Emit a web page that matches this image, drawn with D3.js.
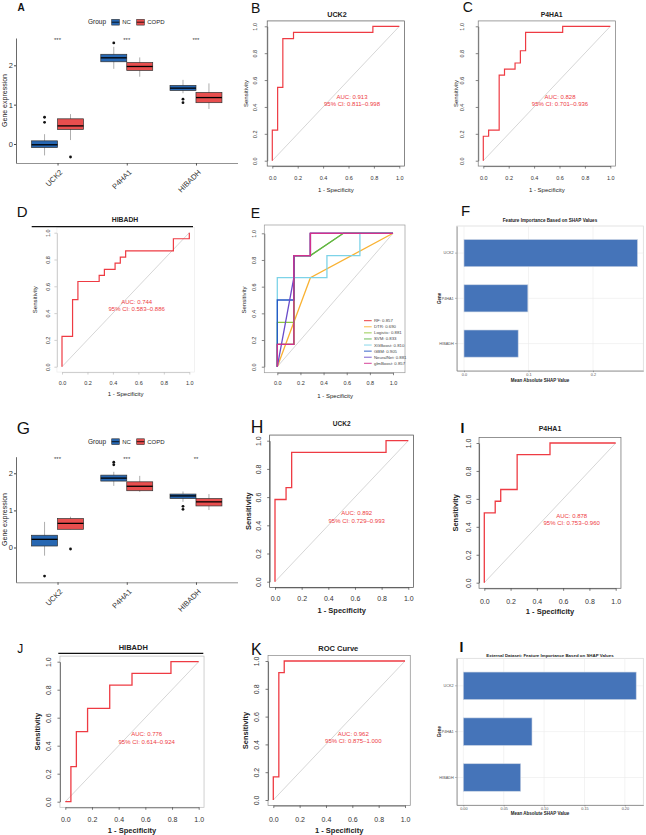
<html>
<head>
    <script src="https://d3js.org/d3.v7.min.js"></script>
    <style>
        body { margin: 0; background: #fff; }
        text { font-family: "Liberation Sans", Arial, Helvetica, sans-serif; }
    </style>
</head>
<body>
<div id="fig"></div>
<script>

    // ---------- data ----------
    var genes = ["UCK2", "P4HA1", "HIBADH"];
    var groups = ["NC", "COPD"];

    // box stats per gene: [lower whisker, Q1, median, Q3, upper whisker]
    var trainNC = [[-0.29, -0.09, -0.02, 0.08, 0.25], [1.91, 2.09, 2.19, 2.28, 2.47], [1.29, 1.36, 1.42, 1.49, 1.63]];
    var trainCOPD = [[0.10, 0.37, 0.46, 0.64, 0.76], [1.71, 1.87, 1.97, 2.07, 2.20], [0.89, 1.05, 1.18, 1.31, 1.54]];
    var trainNCOut = [[0.55, 0.68], [2.57], [1.05, 1.14]];
    var trainCOPDOut = [[-0.33], [], []];
    var trainSig = ["***", "***", "***"];

    var testNC = [[-0.22, 0.04, 0.22, 0.33, 0.69], [1.66, 1.79, 1.87, 1.95, 2.04], [1.23, 1.32, 1.39, 1.44, 1.51]];
    var testCOPD = [[0.49, 0.49, 0.65, 0.78, 0.83], [1.50, 1.53, 1.65, 1.77, 1.93], [1.01, 1.12, 1.23, 1.32, 1.44]];
    var testNCOut = [[-0.77], [2.23, 2.30], [1.03, 1.11]];
    var testCOPDOut = [[-0.04], [], []];
    var testSig = ["***", "***", "**"];

    // ROC curves: [1 - specificity, sensitivity]
    var rocTrainUCK2 = [[0, 0], [0, 0.227], [0.042, 0.227], [0.042, 0.545], [0.083, 0.545], [0.083, 0.909], [0.167, 0.909], [0.167, 0.955], [0.792, 0.955], [0.792, 1], [1, 1]];
    var rocTrainP4HA1 = [[0, 0], [0, 0.182], [0.042, 0.182], [0.042, 0.227], [0.125, 0.227], [0.125, 0.636], [0.167, 0.636], [0.167, 0.682], [0.25, 0.682], [0.25, 0.727], [0.292, 0.727], [0.292, 0.818], [0.333, 0.818], [0.333, 0.955], [0.625, 0.955], [0.625, 1], [1, 1]];
    var rocTrainHIBADH = [[0, 0], [0, 0.227], [0.083, 0.227], [0.083, 0.5], [0.125, 0.5], [0.125, 0.636], [0.292, 0.636], [0.292, 0.682], [0.333, 0.682], [0.333, 0.727], [0.417, 0.727], [0.417, 0.773], [0.458, 0.773], [0.458, 0.818], [0.5, 0.818], [0.5, 0.864], [0.875, 0.864], [0.875, 0.955], [1, 0.955], [1, 1]];
    var rocTestUCK2 = [[0, 0], [0, 0.583], [0.083, 0.583], [0.083, 0.667], [0.125, 0.667], [0.125, 0.917], [0.833, 0.917], [0.833, 1], [1, 1]];
    var rocTestP4HA1 = [[0, 0], [0, 0.5], [0.083, 0.5], [0.083, 0.583], [0.125, 0.583], [0.125, 0.667], [0.25, 0.667], [0.25, 0.917], [0.5, 0.917], [0.5, 1], [1, 1]];
    var rocTestHIBADH = [[0, 0], [0.042, 0], [0.042, 0.25], [0.083, 0.25], [0.083, 0.5], [0.167, 0.5], [0.167, 0.667], [0.333, 0.667], [0.333, 0.833], [0.5, 0.833], [0.5, 0.917], [0.792, 0.917], [0.792, 1], [1, 1]];
    var rocTestModel = [[0, 0], [0, 0.167], [0.042, 0.167], [0.042, 0.917], [0.083, 0.917], [0.083, 1], [1, 1]];

    var aucTrain = [["AUC: 0.913", "95% CI: 0.811\u20130.998"], ["AUC: 0.828", "95% CI: 0.701\u20130.936"], ["AUC: 0.744", "95% CI: 0.583\u20130.886"]];
    var aucTest = [["AUC: 0.892", "95% CI: 0.729\u20130.993"], ["AUC: 0.878", "95% CI: 0.753\u20130.960"], ["AUC: 0.776", "95% CI: 0.614\u20130.924"], ["AUC: 0.962", "95% CI: 0.875\u20131.000"]];

    // panel E: models
    var modelNames = ["RF", "DTR", "Logistic", "SVM", "XGBoost", "GBM", "NeuralNet", "glmBoost"];
    var modelAuc = ["0.857", "0.690", "0.881", "0.833", "0.810", "0.905", "0.881", "0.857"];
    var modelCurves = [
        [[0, 0], [0, 0.167], [0.143, 0.167], [0.143, 0.833], [0.286, 0.833], [0.286, 1], [1, 1]],
        [[0, 0], [0.286, 0.667], [1, 1]],
        [[0, 0], [0, 0.333], [0.143, 0.333], [0.143, 0.833], [0.286, 0.833], [0.571, 1], [1, 1]],
        [[0, 0], [0, 0.167], [0.143, 0.167], [0.143, 0.833], [0.286, 0.833], [0.571, 1], [1, 1]],
        [[0, 0], [0, 0.667], [0.429, 0.667], [0.429, 0.833], [0.714, 0.833], [0.714, 1], [1, 1]],
        [[0, 0], [0, 0.5], [0.143, 0.5], [0.143, 0.833], [0.286, 0.833], [0.286, 1], [1, 1]],
        [[0, 0], [0.143, 0.667], [0.143, 0.833], [0.286, 0.833], [0.286, 1], [1, 1]],
        [[0, 0], [0, 0.167], [0.143, 0.167], [0.143, 0.833], [0.286, 0.833], [0.286, 1], [1, 1]]
    ];

    // SHAP importance (UCK2, P4HA1, HIBADH)
    var shapTrain = [0.269, 0.099, 0.084];
    var shapTest = [0.214, 0.085, 0.071];

    // ---------- styles ----------
    var groupColor = d3.scaleOrdinal(groups, ["#2767B2", "#E84E4E"]);
    var modelColor = d3.scaleOrdinal(modelNames, ["#E8272B", "#F9B233", "#8DC63F", "#5DB547", "#7DD3E8", "#2255C4", "#6A4CC9", "#D2308E"]);
    var rocRed = "#EE3B43";

    var svg = d3.select("#fig")
        .append("svg")
        .attr("width", 646)
        .attr("height", 835);

    svg.append("rect").attr("width", 646).attr("height", 835).attr("fill", "#fff");

    // ---------- box plots (A, G) ----------
    function boxPanel(o) {
        var x = d3.scalePoint().domain(genes).range([o.left, o.right]).padding(0.6);
        var y = d3.scaleLinear().domain(o.yDomain).range([o.bottom, o.top]);
        var boxW = x.step() * 0.375;
        var g = svg.append("g");

        // y axis
        var ya = g.append("g")
            .attr("transform", "translate(" + o.left + ",0)")
            .call(d3.axisLeft(y).tickValues([0, 1, 2]).tickFormat(d3.format("d")).tickSize(2).tickSizeOuter(0));
        ya.select(".domain").attr("stroke", "#444").attr("stroke-width", 0.8);
        ya.selectAll(".tick line").attr("stroke", "#444");
        ya.selectAll("text").style("font-size", "7.5px").attr("fill", "#333").attr("x", -3);

        // x axis
        var xa = g.append("g")
            .attr("transform", "translate(0," + o.bottom + ")")
            .call(d3.axisBottom(x).tickSize(2.5).tickSizeOuter(0));
        xa.select(".domain").attr("stroke", "#777").attr("stroke-width", 0.8);
        xa.selectAll(".tick line").attr("stroke", "#555");
        xa.selectAll("text")
            .attr("x", 0).attr("y", 0).attr("dy", "0.35em")
            .attr("transform", "translate(3,8) rotate(-45)")
            .style("text-anchor", "end")
            .style("font-size", "7.5px")
            .attr("fill", "#333");

        // y label
        g.append("text")
            .attr("transform", "translate(4.3," + ((o.top + o.bottom) / 2) + ") rotate(-90)")
            .attr("dy", "0.35em")
            .style("text-anchor", "middle")
            .style("font-size", "7px")
            .attr("fill", "#222")
            .text("Gene expression");

        // boxes
        var series = [
            { group: "NC", stats: o.nc, out: o.ncOut, shift: -boxW / 2 },
            { group: "COPD", stats: o.copd, out: o.copdOut, shift: boxW / 2 }
        ];
        series.forEach(function (s) {
            s.stats.forEach(function (st, i) {
                var cx = x(genes[i]) + s.shift;
                g.append("line").attr("x1", cx).attr("x2", cx).attr("y1", y(st[0])).attr("y2", y(st[4]))
                    .attr("stroke", "#999").attr("stroke-width", 0.8);
                g.append("rect")
                    .attr("x", cx - boxW / 2).attr("width", boxW)
                    .attr("y", y(st[3])).attr("height", y(st[1]) - y(st[3]))
                    .attr("fill", groupColor(s.group))
                    .attr("stroke", "#333").attr("stroke-width", 0.7);
                g.append("line").attr("x1", cx - boxW / 2).attr("x2", cx + boxW / 2)
                    .attr("y1", y(st[2])).attr("y2", y(st[2]))
                    .attr("stroke", "#000").attr("stroke-width", 1.3);
                s.out[i].forEach(function (v) {
                    g.append("circle").attr("cx", cx).attr("cy", y(v)).attr("r", 1.4).attr("fill", "#111");
                });
            });
        });

        // significance marks
        g.selectAll(".sig").data(o.sig).enter().append("text")
            .attr("x", function (d, i) { return x(genes[i]); })
            .attr("y", o.sigY)
            .attr("dy", "0.35em")
            .style("text-anchor", "middle")
            .style("font-size", "6px")
            .attr("fill", "#444")
            .text(function (d) { return d; });

        // legend
        var ly = o.legendY;
        g.append("text").attr("x", 88).attr("y", ly).attr("dy", "0.35em")
            .style("font-size", "6.5px").attr("fill", "#222").text("Group");
        var keyX = [111.7, 136.7];
        groups.forEach(function (gr, k) {
            g.append("rect").attr("x", keyX[k]).attr("y", ly - 2.9).attr("width", 7.6).attr("height", 5.8)
                .attr("fill", groupColor(gr)).attr("stroke", "#333").attr("stroke-width", 0.6);
            g.append("line").attr("x1", keyX[k]).attr("x2", keyX[k] + 7.6).attr("y1", ly).attr("y2", ly)
                .attr("stroke", "#000").attr("stroke-width", 0.8);
            g.append("text").attr("x", keyX[k] + 10.5).attr("y", ly).attr("dy", "0.35em")
                .style("font-size", "6px").attr("fill", "#222").text(gr);
        });
    }

    // ---------- ROC panels ----------
    function rocPanel(o) {
        var x = d3.scaleLinear().domain([0, 1]).range([o.x0, o.x1]);
        var y = d3.scaleLinear().domain([0, 1]).range([o.y0, o.y1]);
        var fl = o.frame ? o.frame[0] : x(-0.04),
            fr = o.frame ? o.frame[1] : x(1.04),
            ft = o.frame ? o.frame[2] : y(1.04),
            fb = o.frame ? o.frame[3] : y(-0.04);
        var g = svg.append("g");

        g.append("rect").attr("x", fl).attr("y", ft).attr("width", fr - fl).attr("height", fb - ft)
            .attr("fill", "none").attr("stroke", o.frameColor).attr("stroke-width", 0.7);
        if (o.topLine) {
            g.append("line").attr("x1", o.topLine[0]).attr("x2", o.topLine[1]).attr("y1", o.topLine[2]).attr("y2", o.topLine[2])
                .attr("stroke", "#111").attr("stroke-width", 1.2);
        }

        var ticks = [0, 0.2, 0.4, 0.6, 0.8, 1];
        var xa = g.append("g")
            .attr("transform", "translate(0," + fb + ")")
            .call(d3.axisBottom(x).tickValues(ticks).tickFormat(d3.format(".1f")).tickSize(2.5).tickSizeOuter(0));
        xa.selectAll("text").attr("y", o.xTickOff).attr("dy", "0.35em")
            .style("font-size", o.tickSize + "px").attr("fill", "#333");
        var ya = g.append("g")
            .attr("transform", "translate(" + fl + ",0)")
            .call(d3.axisLeft(y).tickValues(ticks).tickFormat(d3.format(".1f")).tickSize(2.5).tickSizeOuter(0));
        ya.selectAll("text")
            .attr("transform", "rotate(-90)")
            .attr("x", 0).attr("y", -o.yTickOff).attr("dy", "0.35em")
            .style("text-anchor", "middle")
            .style("font-size", o.tickSize + "px").attr("fill", "#333");
        [xa, ya].forEach(function (a) {
            a.select(".domain").attr("stroke", o.axisColor).attr("stroke-width", 0.7);
            a.selectAll(".tick line").attr("stroke", o.axisColor).attr("stroke-width", 0.7);
        });

        // axis titles
        g.append("text")
            .attr("x", (o.x0 + o.x1) / 2).attr("y", fb + o.xLabOff).attr("dy", "0.35em")
            .style("text-anchor", "middle").style("font-size", o.labSize + "px")
            .style("font-weight", o.labWeight).attr("fill", "#222")
            .text("1 - Specificity");
        g.append("text")
            .attr("transform", "translate(" + (fl - o.yLabOff) + "," + ((o.y0 + o.y1) / 2) + ") rotate(-90)")
            .attr("dy", "0.35em")
            .style("text-anchor", "middle").style("font-size", o.labSize + "px")
            .style("font-weight", o.labWeight).attr("fill", "#222")
            .text("Sensitivity");

        if (o.title) {
            g.append("text").attr("x", o.titleX).attr("y", o.titleY).attr("dy", "0.35em")
                .style("text-anchor", "middle").style("font-size", o.titleSize + "px")
                .style("font-weight", "bold").attr("fill", "#222").text(o.title);
        }

        // chance line
        g.append("line").attr("x1", x(0)).attr("y1", y(0)).attr("x2", x(1)).attr("y2", y(1))
            .attr("stroke", "#bbb").attr("stroke-width", 0.6);

        var line = d3.line().x(function (d) { return x(d[0]); }).y(function (d) { return y(d[1]); });
        o.curves.forEach(function (c) {
            g.append("path").datum(c.points)
                .attr("d", line)
                .attr("fill", "none")
                .attr("stroke", c.color)
                .attr("stroke-width", o.lineWidth);
        });

        if (o.auc) {
            o.auc.forEach(function (t, k) {
                g.append("text").attr("x", o.aucX).attr("y", o.aucY[k]).attr("dy", "0.35em")
                    .style("text-anchor", "middle").style("font-size", "6px")
                    .attr("fill", rocRed).text(t);
            });
        }
        return { g: g, x: x, y: y };
    }

    // ---------- SHAP bar panels ----------
    function shapPanel(o) {
        var x = d3.scaleLinear().domain(o.xDomain).range([o.left, o.right]);
        var y = d3.scaleBand().domain(genes).range([o.top, o.bottom]).paddingInner(0.4).paddingOuter(0.3);
        var g = svg.append("g");

        g.append("rect").attr("x", o.left).attr("y", o.top).attr("width", o.right - o.left).attr("height", o.bottom - o.top)
            .attr("fill", "#fff").attr("stroke", "#d6d6d6").attr("stroke-width", 0.7);
        g.selectAll(".vg").data(o.ticks).enter().append("line")
            .attr("x1", function (d) { return x(d); }).attr("x2", function (d) { return x(d); })
            .attr("y1", o.top).attr("y2", o.bottom)
            .attr("stroke", "#ebebeb").attr("stroke-width", 0.6);
        g.selectAll(".hg").data(genes).enter().append("line")
            .attr("x1", o.left).attr("x2", o.right)
            .attr("y1", function (d) { return y(d) + y.bandwidth() / 2; })
            .attr("y2", function (d) { return y(d) + y.bandwidth() / 2; })
            .attr("stroke", "#ebebeb").attr("stroke-width", 0.6);

        g.selectAll(".bar").data(o.values).enter().append("rect")
            .attr("x", x(0))
            .attr("y", function (d, i) { return y(genes[i]); })
            .attr("width", function (d) { return x(d) - x(0); })
            .attr("height", y.bandwidth())
            .attr("fill", "#4574B9")
            .attr("stroke", "#c9d3e3").attr("stroke-width", 0.6);

        var xa = g.append("g").attr("transform", "translate(0," + o.bottom + ")")
            .call(d3.axisBottom(x).tickValues(o.ticks).tickFormat(d3.format(o.fmt)).tickSize(1.5).tickSizeOuter(0));
        xa.selectAll("text").attr("y", 2.5).style("font-size", "3.8px").attr("fill", "#555");
        var ya = g.append("g").attr("transform", "translate(" + o.left + ",0)")
            .call(d3.axisLeft(y).tickSize(1.5).tickSizeOuter(0));
        ya.selectAll("text").attr("x", -3).style("font-size", "3.8px").attr("fill", "#555");
        [xa, ya].forEach(function (a) {
            a.select(".domain").attr("stroke", "#777").attr("stroke-width", 0.7);
            a.selectAll(".tick line").attr("stroke", "#777").attr("stroke-width", 0.6);
        });

        g.append("text").attr("x", o.titleX).attr("y", o.titleY).attr("dy", "0.35em")
            .style("text-anchor", "middle").style("font-size", o.titleSize + "px").style("font-weight", "bold")
            .attr("fill", "#222").text(o.title);
        g.append("text").attr("x", (o.left + o.right) / 2 - 10).attr("y", o.xLabY).attr("dy", "0.35em")
            .style("text-anchor", "middle").style("font-size", "4.5px").style("font-weight", "bold")
            .attr("fill", "#222").text("Mean Absolute SHAP Value");
        g.append("text")
            .attr("transform", "translate(439.3," + ((o.top + o.bottom) / 2) + ") rotate(-90)")
            .attr("dy", "0.35em")
            .style("text-anchor", "middle").style("font-size", "4.5px").style("font-weight", "bold")
            .attr("fill", "#222").text("Gene");
    }

    // ---------- draw ----------
    boxPanel({
        left: 16, right: 237.5, top: 38, bottom: 163, yDomain: [-0.483, 2.694],
        nc: trainNC, copd: trainCOPD, ncOut: trainNCOut, copdOut: trainCOPDOut,
        sig: trainSig, sigY: 39.5, legendY: 22.2
    });
    boxPanel({
        left: 16, right: 237.5, top: 456.7, bottom: 582.3, yDomain: [-0.938, 2.447],
        nc: testNC, copd: testCOPD, ncOut: testNCOut, copdOut: testCOPDOut,
        sig: testSig, sigY: 459, legendY: 441.7
    });

    var smallRoc = { tickSize: 5.5, labSize: 6, labWeight: "normal", lineWidth: 1.2, titleSize: 6.8, axisColor: "#555" };
    var bigRoc = { tickSize: 7, labSize: 7.5, labWeight: "bold", lineWidth: 1.3, titleSize: 7, axisColor: "#444" };

    function merge(a, b) { return Object.assign({}, a, b); }

    rocPanel(merge(smallRoc, {
        x0: 272.3, x1: 399.3, y0: 160.7, y1: 26.3, frameColor: "#555",
        xTickOff: 12.2, yTickOff: 12.2, xLabOff: 24, yLabOff: 21.5,
        title: "UCK2", titleX: 337, titleY: 14.5, titleSize: 7.2,
        curves: [{ points: rocTrainUCK2, color: rocRed }],
        auc: aucTrain[0], aucX: 352, aucY: [96.7, 104]
    }));
    rocPanel(merge(smallRoc, {
        x0: 483.3, x1: 610.3, y0: 160.7, y1: 26.3, frameColor: "#777",
        xTickOff: 12.2, yTickOff: 16.5, xLabOff: 24, yLabOff: 22.5,
        title: "P4HA1", titleX: 551.7, titleY: 14.5,
        curves: [{ points: rocTrainP4HA1, color: rocRed }],
        auc: aucTrain[1], aucX: 560, aucY: [96.7, 104]
    }));
    rocPanel(merge(smallRoc, {
        x0: 62, x1: 189.3, y0: 366.7, y1: 232.7, frameColor: "#ececec",
        topLine: [31.7, 193, 226.7], axisColor: "#bbb",
        xTickOff: 10.6, yTickOff: 8.6, xLabOff: 21.9, yLabOff: 21.9,
        title: "HIBADH", titleX: 125, titleY: 219.3,
        curves: [{ points: rocTrainHIBADH, color: rocRed }],
        auc: aucTrain[2], aucX: 136.7, aucY: [301.7, 309]
    }));

    // panel E: model comparison
    var e = rocPanel(merge(smallRoc, {
        x0: 277.3, x1: 393, y0: 366.7, y1: 233.3, frame: [264.3, 405, 225, 372.7], frameColor: "#9a9a9a",
        xTickOff: 10.6, yTickOff: 10, xLabOff: 23.3, yLabOff: 20, lineWidth: 1.3,
        curves: modelCurves.map(function (c, i) { return { points: c, color: modelColor(modelNames[i]) }; })
    }));
    var legRowY = d3.scalePoint().domain(modelNames).range([320.7, 363.3]);
    modelNames.forEach(function (m, i) {
        e.g.append("line").attr("x1", 364).attr("x2", 371.7).attr("y1", legRowY(m)).attr("y2", legRowY(m))
            .attr("stroke", modelColor(m)).attr("stroke-width", 0.9);
        e.g.append("text").attr("x", 374).attr("y", legRowY(m)).attr("dy", "0.35em")
            .style("font-size", "4.3px").attr("fill", "#444").text(m + ": " + modelAuc[i]);
    });

    rocPanel(merge(bigRoc, {
        x0: 275, x1: 408.3, y0: 581.7, y1: 440.7, frameColor: "#444",
        xTickOff: 11, yTickOff: 11.4, xLabOff: 22.7, yLabOff: 21.4,
        title: "UCK2", titleX: 341.7, titleY: 424, titleSize: 6.5,
        curves: [{ points: rocTestUCK2, color: rocRed }],
        auc: aucTest[0], aucX: 356.7, aucY: [513.3, 521]
    }));
    rocPanel(merge(bigRoc, {
        x0: 484.3, x1: 615.7, y0: 582.7, y1: 443, frameColor: "#666",
        xTickOff: 13.4, yTickOff: 10.7, xLabOff: 23.4, yLabOff: 23.3,
        title: "P4HA1", titleX: 550, titleY: 429,
        curves: [{ points: rocTestP4HA1, color: rocRed }],
        auc: aucTest[1], aucX: 571.7, aucY: [515.7, 522.7]
    }));
    rocPanel(merge(bigRoc, {
        x0: 65.3, x1: 198.7, y0: 801.7, y1: 661.7, frameColor: "#bbb",
        topLine: [58.3, 203.3, 653.3],
        xTickOff: 12, yTickOff: 11.7, xLabOff: 23.4, yLabOff: 22.7,
        title: "HIBADH", titleX: 133.3, titleY: 647.5, titleSize: 7.5,
        curves: [{ points: rocTestHIBADH, color: rocRed }],
        auc: aucTest[2], aucX: 146.7, aucY: [734, 741.7]
    }));
    rocPanel(merge(bigRoc, {
        x0: 273.3, x1: 405, y0: 800, y1: 661, frameColor: "#888",
        xTickOff: 13.7, yTickOff: 11.3, xLabOff: 25.1, yLabOff: 23,
        title: "ROC Curve", titleX: 338.3, titleY: 648.3, titleSize: 7.5,
        curves: [{ points: rocTestModel, color: rocRed }],
        auc: aucTest[3], aucX: 353.3, aucY: [734, 740.7]
    }));

    shapPanel({
        left: 456.7, right: 643.3, top: 226, bottom: 370.7, xDomain: [-0.0113, 0.278],
        values: shapTrain, ticks: [0, 0.1, 0.2], fmt: ".1f",
        title: "Feature Importance Based on SHAP Values", titleX: 550, titleY: 220.7, titleSize: 4.6,
        xLabY: 380
    });
    shapPanel({
        left: 456.7, right: 643.3, top: 658.3, bottom: 805, xDomain: [-0.0082, 0.2228],
        values: shapTest, ticks: [0, 0.05, 0.1, 0.15, 0.2], fmt: ".2f",
        title: "External Dataset: Feature Importance Based on SHAP Values", titleX: 550, titleY: 655, titleSize: 4.4,
        xLabY: 813.3
    });

    // panel letters
    var letters = [
        { t: "A", x: 17.5, y: 10.7, s: 10, w: "bold" },
        { t: "B", x: 251, y: 13.3, s: 14, w: "normal" },
        { t: "C", x: 462.7, y: 11.7, s: 14, w: "normal" },
        { t: "D", x: 16.7, y: 216.7, s: 15, w: "normal" },
        { t: "E", x: 250.7, y: 218.3, s: 14, w: "normal" },
        { t: "F", x: 461, y: 215.7, s: 15, w: "normal" },
        { t: "G", x: 16.7, y: 434, s: 17, w: "normal" },
        { t: "H", x: 250.7, y: 432.7, s: 17.5, w: "normal" },
        { t: "I", x: 460.5, y: 432.7, s: 14, w: "bold" },
        { t: "J", x: 17.3, y: 653.3, s: 12, w: "normal" },
        { t: "K", x: 251, y: 655, s: 16, w: "normal" },
        { t: "I", x: 459.5, y: 651.7, s: 14, w: "bold" }
    ];
    svg.selectAll(".letter").data(letters).enter().append("text")
        .attr("x", function (d) { return d.x; })
        .attr("y", function (d) { return d.y; })
        .style("font-size", function (d) { return d.s + "px"; })
        .style("font-weight", function (d) { return d.w; })
        .attr("fill", "#111")
        .text(function (d) { return d.t; });

</script>
</body>
</html>
